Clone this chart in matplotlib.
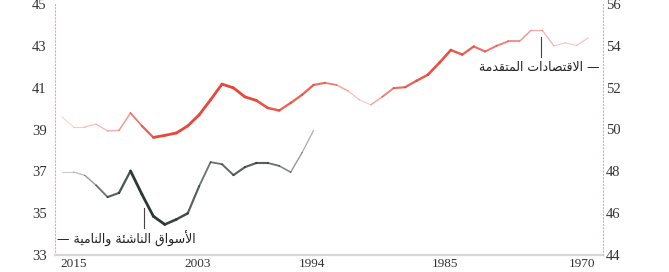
import numpy as np
import matplotlib
matplotlib.use('Agg')
import matplotlib.pyplot as plt
from matplotlib.collections import LineCollection
from matplotlib.colors import to_rgba

# ---------------- data ----------------
years = list(range(2016, 1969, -1))  # 2016 .. 1970
advanced = [50.61, 50.13, 50.13, 50.25, 49.93, 49.96, 50.79, 50.17, 49.62, 49.72,
            49.83, 50.17, 50.70, 51.42, 52.17, 51.99, 51.56, 51.39, 51.03, 50.91,
            51.27, 51.66, 52.13, 52.23, 52.13, 51.85, 51.42, 51.18, 51.56, 51.98,
            52.02, 52.33, 52.62, 53.19, 53.80, 53.58, 53.97, 53.73, 54.00, 54.21,
            54.21, 54.74, 54.74, 54.00, 54.14, 54.02, 54.38]
emerging_years = list(range(2016, 1993, -1))  # 2016 .. 1994
emerging = [36.97, 36.97, 36.81, 36.33, 35.77, 35.97, 37.02, 35.90, 34.85, 34.46,
            34.70, 34.99, 36.29, 37.44, 37.34, 36.82, 37.20, 37.40, 37.40, 37.26,
            36.96, 37.90, 38.95]
xtick_labels = ['2015', '2003', '1994', '1985', '1970']
left_ticks = [33, 35, 37, 39, 41, 43, 45]
right_ticks = [44, 46, 48, 50, 52, 54, 56]
label_adv = 'الاقتصادات المتقدمة'
label_emg = 'الأسواق الناشئة والنامية'

# ---------------- styling (segment ink strength) ----------------
red_alpha = [0.25, 0.3, 0.35, 0.4, 0.45, 0.55, 0.7, 0.85, 1, 1, 1, 1, 1, 1, 1, 1, 1,
             0.95, 0.9, 0.85, 0.85, 0.85, 0.8, 0.7, 0.5, 0.35, 0.3, 0.5, 0.7, 0.8,
             0.85, 0.9, 0.95, 0.95, 0.9, 0.85, 0.8, 0.75, 0.7, 0.65, 0.55, 0.45,
             0.4, 0.3, 0.3, 0.35]
gray_alpha = [0.25, 0.35, 0.5, 0.7, 0.8, 0.85, 1, 1, 1, 0.95, 0.9, 0.8, 0.7, 0.7,
              0.75, 0.8, 0.8, 0.8, 0.7, 0.6, 0.5, 0.4]
xtick_pos = [2015, 2004.1, 1994.1, 1982.5, 1970.5]

RED = '#e8473a'
GRAY = '#2e3833'

# ---------------- simple Arabic shaping ----------------
TABLE = {0x0622: (0xFE81, 2), 0x0623: (0xFE83, 2), 0x0624: (0xFE85, 2), 0x0625: (0xFE87, 2),
         0x0626: (0xFE89, 4), 0x0627: (0xFE8D, 2), 0x0628: (0xFE8F, 4), 0x0629: (0xFE93, 2),
         0x062A: (0xFE95, 4), 0x062B: (0xFE99, 4), 0x062C: (0xFE9D, 4), 0x062D: (0xFEA1, 4),
         0x062E: (0xFEA5, 4), 0x062F: (0xFEA9, 2), 0x0630: (0xFEAB, 2), 0x0631: (0xFEAD, 2),
         0x0632: (0xFEAF, 2), 0x0633: (0xFEB1, 4), 0x0634: (0xFEB5, 4), 0x0635: (0xFEB9, 4),
         0x0636: (0xFEBD, 4), 0x0637: (0xFEC1, 4), 0x0638: (0xFEC5, 4), 0x0639: (0xFEC9, 4),
         0x063A: (0xFECD, 4), 0x0641: (0xFED1, 4), 0x0642: (0xFED5, 4), 0x0643: (0xFED9, 4),
         0x0644: (0xFEDD, 4), 0x0645: (0xFEE1, 4), 0x0646: (0xFEE5, 4), 0x0647: (0xFEE9, 4),
         0x0648: (0xFEED, 2), 0x0649: (0xFEEF, 2), 0x064A: (0xFEF1, 4)}
LAMALEF = {0x0622: 0xFEF5, 0x0623: 0xFEF7, 0x0625: 0xFEF9, 0x0627: 0xFEFB}


def shape(s):
    toks = []
    i = 0
    while i < len(s):
        c = s[i]
        if c == '\u0644' and i + 1 < len(s) and ord(s[i + 1]) in LAMALEF:
            toks.append(('lig', LAMALEF[ord(s[i + 1])]))
            i += 2
        else:
            toks.append(('ch', c))
            i += 1

    def joins_next(t):
        return t[0] == 'ch' and ord(t[1]) in TABLE and TABLE[ord(t[1])][1] == 4

    def is_ar(t):
        return t[0] == 'lig' or ord(t[1]) in TABLE

    out = []
    for j, t in enumerate(toks):
        pj = j > 0 and joins_next(toks[j - 1]) and is_ar(t)
        nj = j < len(toks) - 1 and joins_next(t) and is_ar(toks[j + 1])
        if t[0] == 'lig':
            out.append(chr(t[1] + (1 if pj else 0)))
        elif ord(t[1]) in TABLE:
            st, n = TABLE[ord(t[1])]
            if n == 4:
                if pj and nj:
                    out.append(chr(st + 3))
                elif pj:
                    out.append(chr(st + 1))
                elif nj:
                    out.append(chr(st + 2))
                else:
                    out.append(chr(st))
            else:
                out.append(chr(st + 1) if pj else chr(st))
        else:
            out.append(t[1])
    return ''.join(out)[::-1]


# ---------------- figure ----------------
fig = plt.figure(figsize=(6.69, 2.72), dpi=100)
ax = fig.add_axes([55 / 669, 17 / 272, 548 / 669, 251 / 272])
ax2 = ax.twinx()

ax.set_xlim(2016.6, 1968.7)
ax.set_ylim(33, 45)
ax2.set_ylim(44, 56)


def faded_line(axis, xs, ys, alphas, color):
    pts = np.column_stack([xs, ys])
    segs = np.stack([pts[:-1], pts[1:]], axis=1)
    base = to_rgba(color)
    cols = [(base[0], base[1], base[2], a) for a in alphas]
    lws = [0.7 + 1.3 * a ** 2 for a in alphas]
    lc = LineCollection(segs, colors=cols, linewidths=lws, capstyle='round',
                        joinstyle='round')
    axis.add_collection(lc)


faded_line(ax2, years, advanced, red_alpha, RED)
faded_line(ax, emerging_years, emerging, gray_alpha, GRAY)

# spines
for a in (ax, ax2):
    a.spines['top'].set_visible(False)
    a.spines['left'].set_visible(False)
    a.spines['right'].set_visible(False)
ax.spines['left'].set_visible(True)
ax.spines['left'].set_color('#f4a59c')
ax.spines['left'].set_linestyle((0, (1, 2)))
ax.spines['left'].set_linewidth(0.8)
ax2.spines['right'].set_visible(True)
ax2.spines['right'].set_color('#f4a59c')
ax2.spines['right'].set_linestyle((0, (1, 2)))
ax2.spines['right'].set_linewidth(0.8)
ax.spines['bottom'].set_color('#d6d6d6')
ax.spines['bottom'].set_linewidth(1.6)
ax2.spines['bottom'].set_visible(False)

tick_font = dict(family='Liberation Serif', size=10.5, color='#333333')
ax.set_yticks(left_ticks)
ax.set_yticklabels([str(v) for v in left_ticks], **tick_font)
ax2.set_yticks(right_ticks)
ax2.set_yticklabels([str(v) for v in right_ticks], **tick_font)
ax.set_xticks(xtick_pos)
ax.set_xticklabels(xtick_labels, family='Liberation Serif', size=9.5, color='#333333')
ax.tick_params(axis='y', length=0, pad=6)
ax2.tick_params(axis='y', length=0, pad=2)
ax.tick_params(axis='x', length=0, pad=2.5)

# annotations
ar_font = dict(family='DejaVu Sans', size=9, color='#222222')
ax2.plot([1974.1, 1974.1], [54.44, 53.48], color='#444444', lw=0.8)
ax2.text(1969.0, 52.95, shape(label_adv) + ' \u2014', ha='right', va='center', **ar_font)

ax.plot([2008.8, 2008.8], [35.23, 34.27], color='#444444', lw=0.8)
ax.text(2016.4, 33.79, '\u2014 ' + shape(label_emg), ha='left', va='center', **ar_font)

fig.savefig('out.png', dpi=100)
